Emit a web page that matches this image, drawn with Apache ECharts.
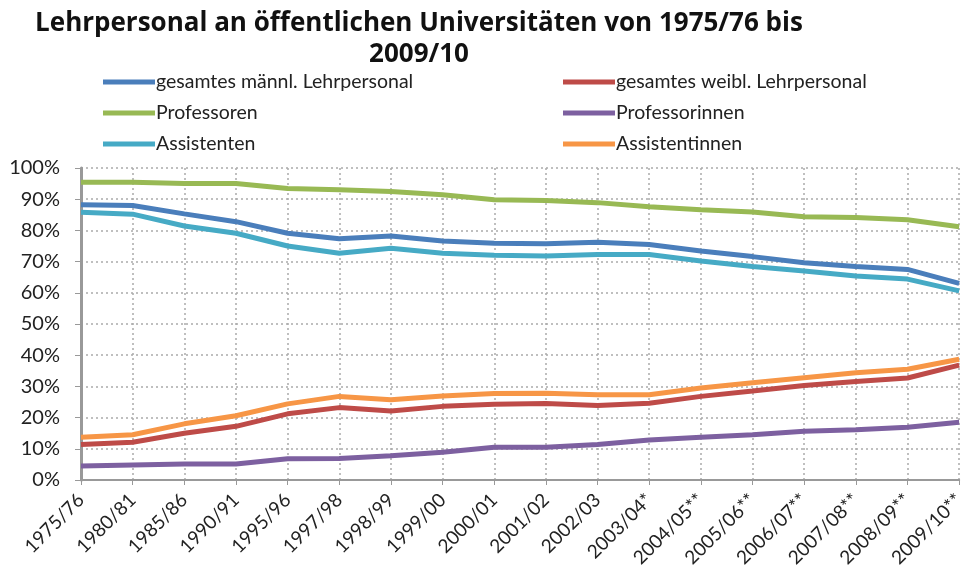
<!DOCTYPE html>
<html>
<head>
<meta charset="utf-8">
<script src="https://cdn.jsdelivr.net/npm/echarts@6/dist/echarts.min.js"></script>
<style>
  html, body { margin: 0; padding: 0; background: #fff; }
  #chart { width: 968px; height: 574px; }
</style>
</head>
<body>
<div id="chart"></div>
<script>
// categories (school years)
var years = ['1975/76', '1980/81', '1985/86', '1990/91', '1995/96', '1997/98', '1998/99', '1999/00',
    '2000/01', '2001/02', '2002/03', '2003/04*', '2004/05**', '2005/06**', '2006/07**', '2007/08**',
    '2008/09**', '2009/10**'];

// shares in percent
var maennl = [88.2, 88.0, 85.3, 82.8, 79.1, 77.3, 78.2, 76.6, 75.9, 75.7, 76.2, 75.5, 73.4, 71.6, 69.6, 68.4, 67.5, 63.0];
var weibl = [11.4, 12.1, 15.0, 17.2, 21.2, 23.2, 22.1, 23.6, 24.3, 24.5, 23.9, 24.6, 26.8, 28.5, 30.3, 31.6, 32.7, 36.8];
var professoren = [95.4, 95.4, 95.0, 95.0, 93.4, 93.0, 92.5, 91.4, 89.8, 89.6, 88.9, 87.6, 86.6, 85.9, 84.4, 84.1, 83.4, 81.2];
var professorinnen = [4.5, 4.8, 5.1, 5.1, 6.8, 6.9, 7.8, 8.9, 10.5, 10.5, 11.4, 12.8, 13.7, 14.5, 15.6, 16.1, 16.9, 18.5];
var assistenten = [85.8, 85.2, 81.4, 79.1, 75.0, 72.7, 74.3, 72.7, 72.0, 71.8, 72.3, 72.3, 70.2, 68.4, 67.0, 65.4, 64.4, 60.6];
var assistentinnen = [13.7, 14.5, 18.0, 20.6, 24.4, 26.8, 25.7, 26.9, 27.7, 27.8, 27.3, 27.3, 29.5, 31.2, 32.8, 34.4, 35.5, 38.7];

var font = 'Lato';

function makeLine(name, values, color) {
    return {
        name: name,
        type: 'line',
        data: values,
        symbol: 'none',
        lineStyle: { width: 5, color: color },
        itemStyle: { color: color }
    };
}

var myChart = echarts.init(document.getElementById('chart'));

var option = {
    animation: false,
    title: {
        text: 'Lehrpersonal an öffentlichen Universitäten von 1975/76 bis\n2009/10',
        left: 414,
        textAlign: 'center',
        top: 3,
        textStyle: {
            fontFamily: 'Open Sans',
            fontWeight: 'bold',
            fontSize: 26,
            lineHeight: 31,
            color: '#111'
        }
    },
    legend: [{
        data: ['gesamtes männl. Lehrpersonal', 'Professoren', 'Assistenten'],
        orient: 'vertical',
        left: 98,
        top: 67,
        itemGap: 11,
        itemWidth: 52,
        itemHeight: 5,
        icon: 'rect',
        textStyle: { fontFamily: font, fontSize: 19.5, color: '#222', padding: [0, 0, 0, -4] }
    }, {
        data: ['gesamtes weibl. Lehrpersonal', 'Professorinnen', 'Assistentinnen'],
        orient: 'vertical',
        left: 558,
        top: 67,
        itemGap: 11,
        itemWidth: 52,
        itemHeight: 5,
        icon: 'rect',
        textStyle: { fontFamily: font, fontSize: 19.5, color: '#222', padding: [0, 0, 0, -4] }
    }],
    grid: {
        left: 81,
        right: 3,
        top: 168,
        bottom: 94
    },
    xAxis: {
        type: 'category',
        data: years,
        boundaryGap: false,
        axisLine: { lineStyle: { color: '#999', width: 2 } },
        axisTick: { show: true, length: 5, lineStyle: { color: '#999', width: 1 } },
        axisLabel: { rotate: 45, fontFamily: font, fontSize: 19, color: '#222', margin: 17 },
        splitLine: { show: true, lineStyle: { color: '#aaa', type: [2, 3], width: 1.5 } }
    },
    yAxis: {
        type: 'value',
        min: 0,
        max: 100,
        interval: 10,
        axisLine: { show: true, lineStyle: { color: '#999', width: 3 } },
        axisTick: { show: true, length: 6, lineStyle: { color: '#999', width: 1 } },
        axisLabel: { formatter: '{value}%', fontFamily: font, fontSize: 20, color: '#222', margin: 21 },
        splitLine: { show: true, lineStyle: { color: '#aaa', type: [2, 3], width: 1.5 } }
    },
    series: [
        makeLine('gesamtes männl. Lehrpersonal', maennl, '#4a7ebb'),
        makeLine('gesamtes weibl. Lehrpersonal', weibl, '#be4b48'),
        makeLine('Professoren', professoren, '#98b954'),
        makeLine('Professorinnen', professorinnen, '#7d60a0'),
        makeLine('Assistenten', assistenten, '#46aac5'),
        makeLine('Assistentinnen', assistentinnen, '#f79646')
    ]
};

myChart.setOption(option);
</script>
</body>
</html>
